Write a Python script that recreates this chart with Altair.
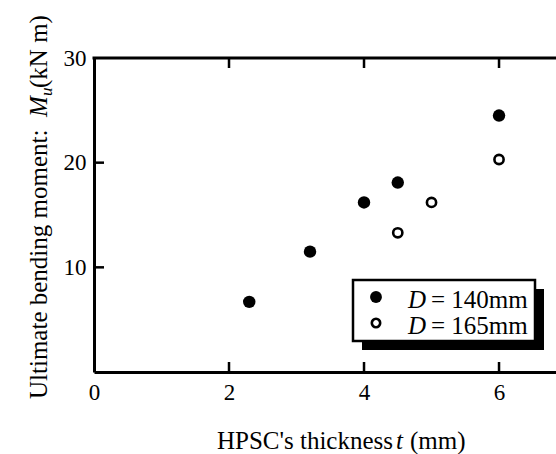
import altair as alt
import pandas as pd

# ---- data ----
x_140 = [2.3, 3.2, 4.0, 4.5, 6.0]
y_140 = [6.7, 11.5, 16.2, 18.1, 24.5]
x_165 = [4.5, 5.0, 6.0]
y_165 = [13.3, 16.2, 20.3]
series_labels = ["140mm", "165mm"]
x_ticks = [0, 2, 4, 6]
y_ticks = [10, 20, 30]
x_title = ["HPSC's thickness", "t", "(mm)"]
y_title = ["Ultimate bending moment:", "M", "u", "(kN m)"]

W, H = 462, 314
XMAX = 6.844
FONT = "Liberation Serif"
one = pd.DataFrame({"a": [0]})

xs = alt.Scale(domain=[0, XMAX], nice=False, zero=True)
ys = alt.Scale(domain=[0, 30], nice=False)

ax_x = alt.Axis(values=x_ticks, ticks=False, labelPadding=9, labelFontSize=23,
                labelFont=FONT, labelColor="black", domainColor="black",
                domainWidth=3, grid=False, title=None, labelFlush=False)
ax_y = alt.Axis(values=y_ticks, ticks=False, labelPadding=8, labelFontSize=23,
                labelFont=FONT, labelColor="black", domainColor="black",
                domainWidth=3, grid=False, title=None, labelFlush=False)

df140 = pd.DataFrame({"t": x_140, "M": y_140})
df165 = pd.DataFrame({"t": x_165, "M": y_165})

pts140 = alt.Chart(df140).mark_point(shape="circle", filled=True, size=155,
                                     color="black", opacity=1).encode(
    x=alt.X("t:Q", scale=xs, axis=ax_x), y=alt.Y("M:Q", scale=ys, axis=ax_y))
pts165 = alt.Chart(df165).mark_point(shape="circle", filled=False, size=85,
                                     color="black", strokeWidth=2.6, opacity=1).encode(
    x=alt.X("t:Q", scale=xs, axis=ax_x), y=alt.Y("M:Q", scale=ys, axis=ax_y))

xt = pd.DataFrame({"t": [v for v in x_ticks if v > 0]})
yt = pd.DataFrame({"M": [v for v in y_ticks if v < 30]})
tick_bot = alt.Chart(xt).mark_rule(color="black", strokeWidth=2.5).encode(
    x=alt.X("t:Q", scale=xs, axis=ax_x), y=alt.value(H), y2=alt.value(H - 10))
tick_top = alt.Chart(xt).mark_rule(color="black", strokeWidth=2.5).encode(
    x=alt.X("t:Q", scale=xs, axis=ax_x), y=alt.value(0), y2=alt.value(10))
tick_y = alt.Chart(yt).mark_rule(color="black", strokeWidth=2.5).encode(
    y=alt.Y("M:Q", scale=ys, axis=ax_y), x=alt.value(0), x2=alt.value(10))
top_line = alt.Chart(one).mark_rule(color="black", strokeWidth=3).encode(
    x=alt.value(-1.5), x2=alt.value(W), y=alt.value(0))


def txt(s, x, y, size=25, style="normal", align="left", angle=0):
    return alt.Chart(one).mark_text(align=align, baseline="alphabetic", font=FONT,
                                    fontSize=size, fontStyle=style, color="black",
                                    angle=angle).encode(
        x=alt.value(x), y=alt.value(y), text=alt.value(s))


# x title
xb = 391
xtitle = [txt(x_title[0], 299, xb, align="right"),
          txt(x_title[1], 302, xb, style="italic"),
          txt(x_title[2], 316, xb)]

# y title rotated (reads bottom to top)
yx = -47
ytitle = [txt(y_title[0], yx, 341, angle=270),
          txt(y_title[1], yx, 59, style="italic", angle=270),
          txt(y_title[2], yx + 5, 38, size=17, style="italic", angle=270),
          txt(y_title[3], yx, 30, angle=270)]

# legend box with shadow
shadow = alt.Chart(one).mark_rect(color="black").encode(
    x=alt.value(268), x2=alt.value(450), y=alt.value(231), y2=alt.value(292))
box = alt.Chart(one).mark_rect(fill="white", stroke="black", strokeWidth=2.5).encode(
    x=alt.value(259), x2=alt.value(441), y=alt.value(222), y2=alt.value(283))
leg_f = alt.Chart(one).mark_point(shape="circle", filled=True, size=140,
                                  color="black", opacity=1).encode(
    x=alt.value(282), y=alt.value(239))
leg_o = alt.Chart(one).mark_point(shape="circle", filled=False, size=70,
                                  color="black", strokeWidth=2.6, opacity=1).encode(
    x=alt.value(282), y=alt.value(265))
leg_txt = []
for i, lab in enumerate(series_labels):
    yy = 250 + 26 * i
    leg_txt.append(txt("D", 314, yy, size=25, style="italic"))
    leg_txt.append(txt("= " + lab, 337, yy, size=25))

chart = alt.layer(
    pts140, pts165, tick_bot, tick_top, tick_y, top_line,
    *xtitle, *ytitle, shadow, box, leg_f, leg_o, *leg_txt
).properties(
    width=W, height=H,
    autosize=alt.AutoSizeParams(type="none"),
    padding={"left": 94, "top": 58, "right": 0, "bottom": 82},
).configure_view(stroke=None)

chart.save("out.html", embed_options={"renderer": "svg", "actions": False})
